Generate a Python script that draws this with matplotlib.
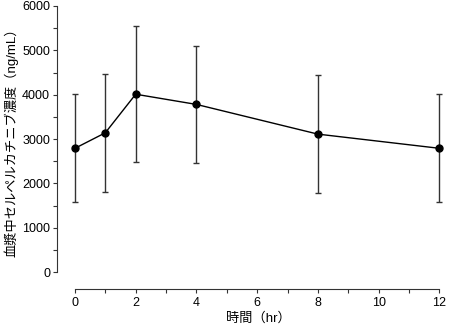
import matplotlib
matplotlib.use('Agg')
import matplotlib.pyplot as plt
from matplotlib.ticker import MultipleLocator

plt.rcParams['font.family'] = ['Liberation Sans', 'Noto Sans CJK JP', 'DejaVu Sans']

time_hr = [0, 1, 2, 4, 8, 12]
conc_mean = [2790, 3140, 4010, 3780, 3110, 2790]
conc_sd = [1220, 1330, 1530, 1310, 1330, 1220]

fig = plt.figure(figsize=(4.5, 3.26), dpi=100)
ax = fig.add_axes([0.1267, 0.1656, 0.8633, 0.816])

ax.errorbar(time_hr, conc_mean, yerr=conc_sd, fmt='-o', color='black',
            ecolor='#333333', elinewidth=1, capsize=2.5, capthick=1,
            markersize=5, linewidth=1)

ax.set_xlim(-0.59, 12.2)
ax.set_ylim(0, 6000)
ax.spines['top'].set_visible(False)
ax.spines['right'].set_visible(False)
ax.spines['bottom'].set_position(('outward', 12))
ax.spines['bottom'].set_bounds(0, 12)
ax.spines['left'].set_bounds(0, 6000)
for s in ('left', 'bottom'):
    ax.spines[s].set_linewidth(0.8)
    ax.spines[s].set_color('#333333')

ax.xaxis.set_major_locator(MultipleLocator(2))
ax.xaxis.set_minor_locator(MultipleLocator(1))
ax.yaxis.set_major_locator(MultipleLocator(1000))
ax.yaxis.set_minor_locator(MultipleLocator(500))
ax.tick_params(which='both', direction='out', length=3, width=0.8, colors='#333333',
               labelsize=9, labelcolor='black')
ax.tick_params(axis='x', pad=3)
ax.tick_params(axis='y', pad=2)

fig.text(258 / 450, 1 - 318 / 326, '時間（hr）', fontsize=9.5, ha='center', va='center')
fig.text(11 / 450, 1 - 139 / 326, '血漿中セルペルカチニブ濃度（ng/mL）', fontsize=9.5,
         ha='center', va='center', rotation=90)

fig.savefig('out.png', dpi=100)
